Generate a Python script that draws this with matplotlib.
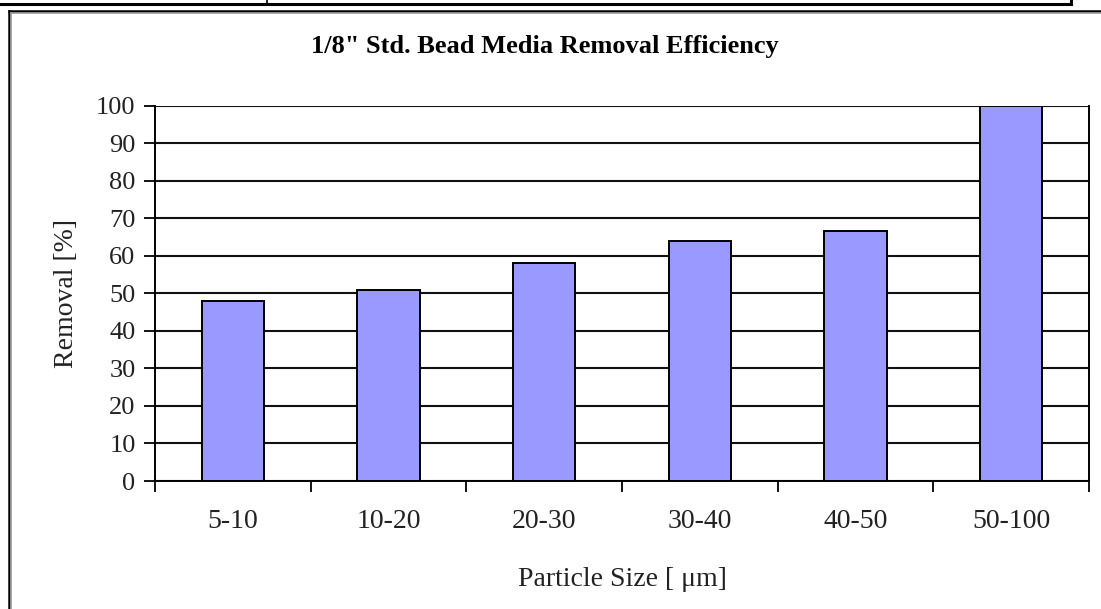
#!/usr/bin/python3
#-*- coding: utf-8 -*-

import matplotlib
matplotlib.use('Agg')
import matplotlib.pyplot as plt
from matplotlib.lines import Line2D
import numpy as np

## Data
sizes = ['5-10', '10-20', '20-30', '30-40', '40-50', '50-100']
removal = [48, 51, 58, 64, 66.5, 100]
yticks = [0, 10, 20, 30, 40, 50, 60, 70, 80, 90, 100]

matplotlib.rc('font', family=['Liberation Serif', 'DejaVu Serif'])

fig = plt.figure(figsize=(11.01, 6.09), dpi=100)
W, H = 1101., 609.

## page decorations: table line at the top and the chart frame
fig.add_artist(Line2D([0, 1071/W], [1-4/H, 1-4/H], color='black', lw=2.2))
fig.add_artist(Line2D([1071/W, 1071/W], [1, 1-4/H], color='black', lw=2.2))
fig.add_artist(Line2D([267/W, 267/W], [1, 1-4/H], color='black', lw=1.2))
fig.add_artist(Line2D([9/W, 1], [1-11/H, 1-11/H], color='black', lw=1.8))
fig.add_artist(Line2D([9/W, 9/W], [0, 1-11/H], color='black', lw=1.8))
fig.add_artist(Line2D([11/W, 1], [1-13/H, 1-13/H], color='#9a9a9a', lw=1.2))
fig.add_artist(Line2D([11/W, 11/W], [0, 1-13/H], color='#9a9a9a', lw=1.2))

ax = fig.add_axes([155/W, 1-481/H, (1089-155)/W, (481-105.7)/H])

x = np.arange(len(sizes))
ax.bar(x, removal, width=0.4, color='#9999FF', edgecolor='black', linewidth=1.4, zorder=3)

ax.set_xlim(-0.5, len(sizes)-0.5)
ax.set_ylim(0, 100)
ax.set_yticks(yticks)
ax.set_yticklabels([str(v) for v in yticks], fontsize=19, color='#222222')
ax.set_xticks(x)
ax.set_xticklabels(sizes, fontsize=20, color='#222222')
ax.set_xticks(np.arange(len(sizes)+1)-0.5, minor=True)
ax.tick_params(axis='x', which='major', length=0, pad=20)
ax.tick_params(axis='x', which='minor', length=8, width=1.3, direction='out')
ax.tick_params(axis='y', length=8, width=1.3, direction='out', pad=6)

ax.grid(axis='y', color='#111111', linewidth=1.5, zorder=1)
ax.set_axisbelow(True)
for s in ['left', 'right', 'bottom']:
    ax.spines[s].set_linewidth(1.4)
ax.spines['top'].set_visible(False)

ax.set_ylabel(u"Removal [%]", fontsize=20, labelpad=12, color='#222222')
ax.set_xlabel(u"Particle Size [ \u03bcm]", fontsize=20, labelpad=24, color='#222222')
fig.text(545/W, 1-47/H, u"1/8\" Std. Bead Media Removal Efficiency",
         fontsize=19, fontweight='bold', ha='center', va='center')

plt.savefig("out.png", dpi=100)
